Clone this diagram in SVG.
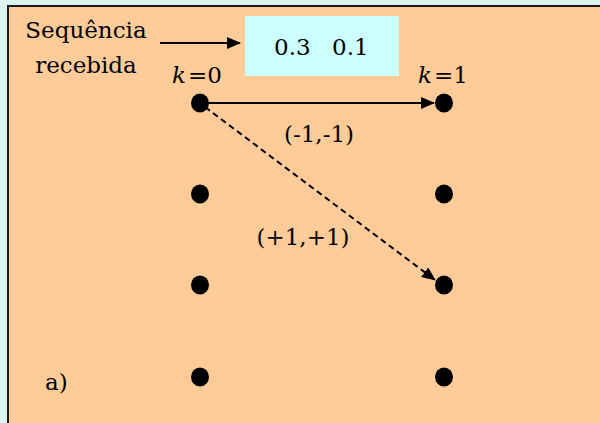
<svg xmlns="http://www.w3.org/2000/svg" width="600" height="423" viewBox="0 0 600 423">
<style>
.t{font-family:'DejaVu Serif','Liberation Serif',serif;font-size:23px;fill:#000}
.i{font-style:italic}
.dot{fill:#000}
.ln{stroke:#000;stroke-width:2;fill:none}
</style>
<defs>
<marker id="ah2" markerWidth="14" markerHeight="12" refX="13" refY="6" orient="auto" markerUnits="userSpaceOnUse" viewBox="0 0 14 12">
<path d="M0,0 L14,6 L0,12 z" fill="#000"/>
</marker>
</defs>
<rect x="0" y="0" width="600" height="423" fill="#dcf5f2"/>
<rect x="8" y="6" width="600" height="430" fill="#ffcc99" stroke="#1a1a1a" stroke-width="2"/>
<g id="label-seq">
<text class="t" x="86" y="38" text-anchor="middle">Sequência</text>
<text class="t" x="86" y="73" text-anchor="middle">recebida</text>
</g>
<g id="received">
<rect x="245" y="16" width="154" height="60" fill="#ccffff"/>
<text class="t" x="274" y="55">0.3</text>
<text class="t" x="332" y="55">0.1</text>
</g>
<g id="k0"><text class="t" x="172" y="83"><tspan class="i">k</tspan><tspan dx="2">=0</tspan></text></g>
<g id="k1"><text class="t" x="418" y="83"><tspan class="i">k</tspan><tspan dx="2">=1</tspan></text></g>
<g id="a-label"><text class="t" x="45" y="390">a)</text></g>
<g id="n00"><ellipse class="dot" cx="200" cy="103" rx="9" ry="9.6"/></g>
<g id="n01"><ellipse class="dot" cx="200" cy="194" rx="9" ry="9.6"/></g>
<g id="n02"><ellipse class="dot" cx="200" cy="285" rx="9" ry="9.6"/></g>
<g id="n03"><ellipse class="dot" cx="200" cy="377" rx="9" ry="9.6"/></g>
<g id="n10"><ellipse class="dot" cx="444" cy="103" rx="9" ry="9.6"/></g>
<g id="n11"><ellipse class="dot" cx="444" cy="194" rx="9" ry="9.6"/></g>
<g id="n12"><ellipse class="dot" cx="444" cy="285" rx="9" ry="9.6"/></g>
<g id="n13"><ellipse class="dot" cx="444" cy="377" rx="9" ry="9.6"/></g>
<g id="connectors">
<line class="ln" x1="160" y1="43" x2="240" y2="43" marker-end="url(#ah2)"/>
<line class="ln" x1="200" y1="103" x2="434" y2="103" marker-end="url(#ah2)"/>
<line class="ln" x1="205" y1="107" x2="435" y2="280" stroke-dasharray="6,4" marker-end="url(#ah2)"/>
<text class="t" x="319" y="142" text-anchor="middle">(-1,-1)</text>
<text class="t" x="303" y="245" text-anchor="middle">(+1,+1)</text>
</g>
</svg>
